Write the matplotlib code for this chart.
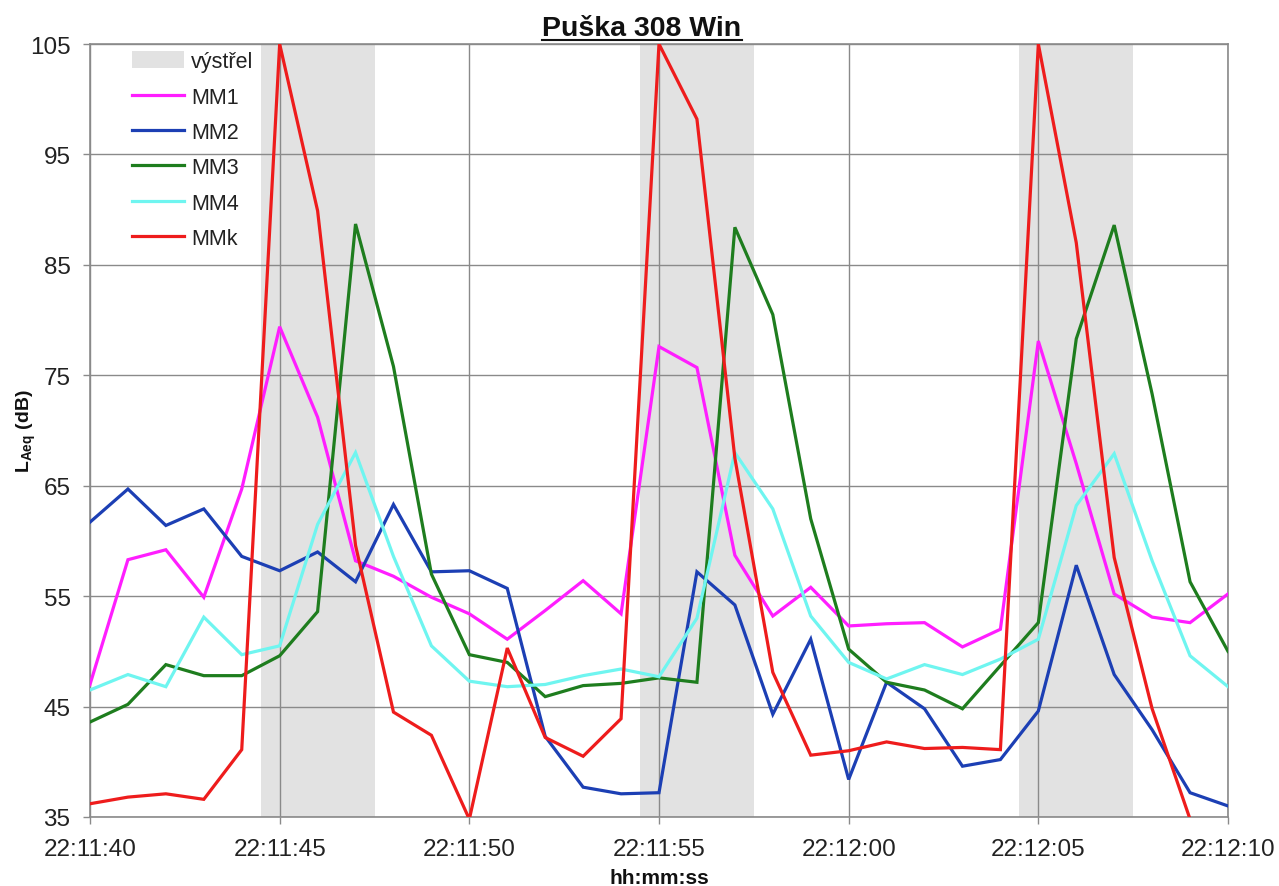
import matplotlib
matplotlib.use("Agg")
import matplotlib.pyplot as plt
from matplotlib.patches import Patch
from matplotlib.lines import Line2D

# ---- data -------------------------------------------------------------
start_time = "22:11:40"
tick_labels = ["22:11:40", "22:11:45", "22:11:50", "22:11:55",
               "22:12:00", "22:12:05", "22:12:10"]
# one sample per second, 22:11:40 ... 22:12:10
sample_times = ["22:11:40", "22:11:41", "22:11:42", "22:11:43", "22:11:44",
                "22:11:45", "22:11:46", "22:11:47", "22:11:48", "22:11:49",
                "22:11:50", "22:11:51", "22:11:52", "22:11:53", "22:11:54",
                "22:11:55", "22:11:56", "22:11:57", "22:11:58", "22:11:59",
                "22:12:00", "22:12:01", "22:12:02", "22:12:03", "22:12:04",
                "22:12:05", "22:12:06", "22:12:07", "22:12:08", "22:12:09",
                "22:12:10"]
shot_start = [4.5, 14.5, 24.5]   # seconds after start
shot_end = [7.5, 17.5, 27.5]

mm1 = [47.0, 58.3, 59.2, 54.9, 64.7, 79.4, 71.2, 58.2, 56.8, 54.9,
       53.4, 51.1, 53.7, 56.4, 53.4, 77.6, 75.7, 58.7, 53.2, 55.8,
       52.3, 52.5, 52.6, 50.4, 52.0, 78.1, 67.0, 55.2, 53.1, 52.6, 55.2]
mm2 = [61.7, 64.7, 61.4, 62.9, 58.6, 57.3, 59.0, 56.3, 63.3, 57.2,
       57.3, 55.7, 42.3, 37.7, 37.1, 37.2, 57.2, 54.2, 44.3, 51.1,
       38.4, 47.2, 44.8, 39.6, 40.2, 44.6, 57.8, 47.9, 42.9, 37.2, 36.0]
mm3 = [43.6, 45.2, 48.8, 47.8, 47.8, 49.6, 53.6, 88.7, 75.8, 57.0,
       49.7, 49.0, 45.9, 46.9, 47.1, 47.6, 47.2, 88.4, 80.5, 62.0,
       50.2, 47.2, 46.5, 44.8, 48.7, 52.6, 78.3, 88.6, 73.3, 56.3, 50.0]
mm4 = [46.5, 47.9, 46.8, 53.1, 49.7, 50.5, 61.5, 68.0, 58.6, 50.5,
       47.3, 46.8, 47.0, 47.8, 48.4, 47.7, 53.0, 68.0, 62.9, 53.2,
       49.0, 47.5, 48.8, 47.9, 49.3, 51.1, 63.2, 67.9, 58.2, 49.6, 46.8]
mmk = [36.2, 36.8, 37.1, 36.6, 41.1, 105.0, 89.9, 59.6, 44.5, 42.4,
       34.8, 50.3, 42.2, 40.5, 43.9, 105.0, 98.2, 67.5, 48.1, 40.6,
       41.0, 41.8, 41.2, 41.3, 41.1, 105.0, 87.0, 58.5, 44.8, 34.8, 33.0]

series_names = ["MM1", "MM2", "MM3", "MM4", "MMk"]
series_colors = ["#FF1EFF", "#1C3FB4", "#1E7D1E", "#6FF5F0", "#EE1C1C"]
y_ticks = [35, 45, 55, 65, 75, 85, 95, 105]


def to_sec(s):
    h, m, sec = (int(p) for p in s.split(":"))
    return h * 3600 + m * 60 + sec


t0 = to_sec(start_time)
x = [to_sec(s) - t0 for s in sample_times]
xticks = [to_sec(s) - t0 for s in tick_labels]

# ---- figure -----------------------------------------------------------
plt.rcParams["font.family"] = ["Liberation Sans", "DejaVu Sans"]
plt.rcParams["mathtext.fontset"] = "custom"
plt.rcParams["mathtext.rm"] = "Liberation Sans"
plt.rcParams["mathtext.bf"] = "Liberation Sans:bold"

fig = plt.figure(figsize=(12.79, 8.87), dpi=100)
ax = fig.add_axes([90 / 1279, 1 - 818 / 887, 1138 / 1279, 773 / 887])

grid_c = "#8A8A8A"
for s0, s1 in zip(shot_start, shot_end):
    ax.axvspan(s0, s1, color="#E2E2E2", lw=0, zorder=1)

for name, vals, col in zip(series_names, [mm1, mm2, mm3, mm4, mmk], series_colors):
    ax.plot(x, vals, color=col, lw=2.3, solid_joinstyle="miter", zorder=3)

ax.set_xlim(xticks[0], xticks[-1])
ax.set_ylim(y_ticks[0], y_ticks[-1])
ax.set_xticks(xticks)
ax.set_xticklabels(tick_labels)
ax.set_yticks(y_ticks)
ax.grid(True, color=grid_c, lw=1.0, zorder=1.5)
ax.set_axisbelow("line")
for sp in ax.spines.values():
    sp.set_color(grid_c)
    sp.set_linewidth(1.2)
ax.tick_params(axis="both", colors=grid_c, length=5, width=1,
               labelcolor="#222222", labelsize=17.5)
ax.tick_params(axis="x", pad=10)
ax.tick_params(axis="y", pad=9)

ax.set_xlabel("hh:mm:ss", fontsize=15, fontweight="bold", color="#111111")
ax.xaxis.set_label_coords(0.5, -0.066)
ax.set_ylabel(r"L$_{\mathbf{Aeq}}$ (dB)", fontsize=14, fontweight="bold",
              color="#111111")
ax.yaxis.set_label_coords(-0.046, 0.5)

# legend
handles = [Patch(facecolor="#E2E2E2", edgecolor="none", label="výstřel")]
for name, col in zip(series_names, series_colors):
    handles.append(Line2D([0], [0], color=col, lw=2.3, label=name))
leg = ax.legend(handles=handles, loc="upper left",
                bbox_to_anchor=(0.029, 1.002), frameon=False,
                fontsize=15.5, handlelength=2.45, handleheight=0.85,
                handletextpad=0.3, labelspacing=0.67, borderaxespad=0)
for txt in leg.get_texts():
    txt.set_color("#222222")

# title (underlined)
title = fig.text(642 / 1279, 1 - 29 / 887, "Puška 308 Win", ha="center",
                 va="center", fontsize=20.5, fontweight="bold", color="#111111")
fig.canvas.draw()
bb = title.get_window_extent(renderer=fig.canvas.get_renderer())
fig.add_artist(Line2D([bb.x0, bb.x1], [bb.y0 + 1, bb.y0 + 1],
                      transform=None, color="#111111", lw=1.5))

fig.savefig("out.png", dpi=100)
